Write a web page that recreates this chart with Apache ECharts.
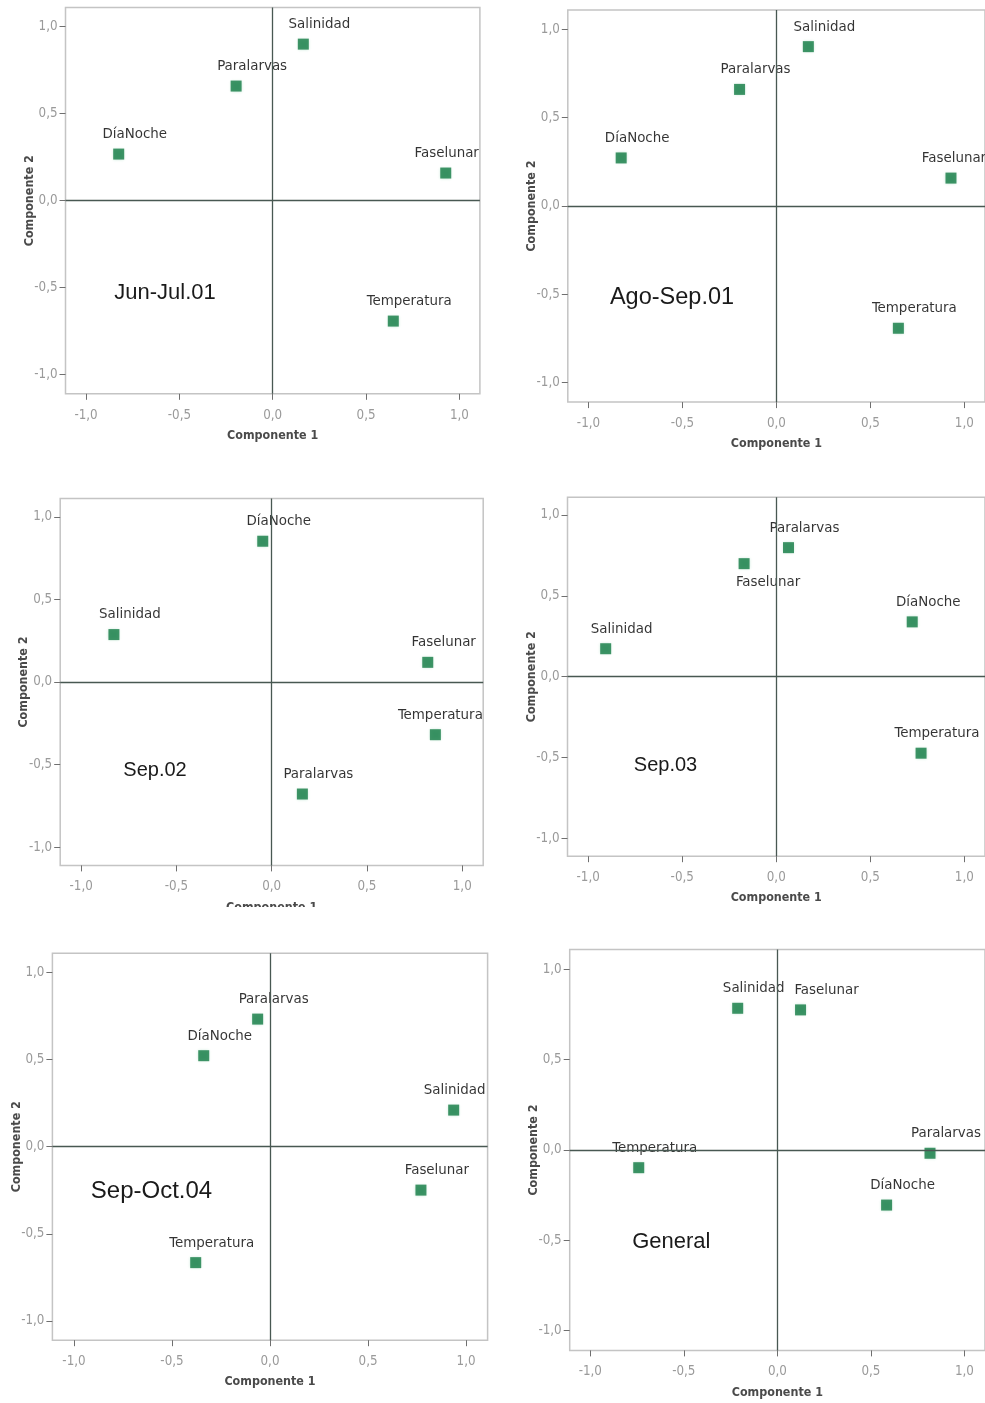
<!DOCTYPE html>
<html>
<head>
<meta charset="utf-8">
<script src="https://cdn.jsdelivr.net/npm/echarts@6/dist/echarts.min.js"></script>
<style>
html,body{margin:0;padding:0;background:#fff;}
#chart{width:985px;height:1403px;}
</style>
</head>
<body>
<div id="chart"></div>
<script>
// ---------------- data ----------------
const variables = ['Salinidad', 'Paralarvas', 'DíaNoche', 'Faselunar', 'Temperatura'];
const panelTitles = ['Jun-Jul.01', 'Ago-Sep.01', 'Sep.02', 'Sep.03', 'Sep-Oct.04', 'General'];
const axisTicks = [-1.0, -0.5, 0.0, 0.5, 1.0];
const xAxisName = 'Componente 1';
const yAxisName = 'Componente 2';

// Componente 1 / Componente 2 loadings, in the order of `variables`
const junJul01C1 = [0.164, -0.196, -0.825, 0.927, 0.646];
const junJul01C2 = [0.900, 0.659, 0.268, 0.159, -0.692];
const agoSep01C1 = [0.170, -0.196, -0.826, 0.929, 0.649];
const agoSep01C2 = [0.902, 0.660, 0.272, 0.158, -0.692];
const sep02C1 = [-0.828, 0.161, -0.047, 0.819, 0.859];
const sep02C2 = [0.287, -0.678, 0.852, 0.119, -0.319];
const sep03C1 = [-0.907, 0.065, 0.723, -0.171, 0.770];
const sep03C2 = [0.173, 0.798, 0.339, 0.699, -0.473];
const sepOct04C1 = [0.937, -0.063, -0.338, 0.770, -0.379];
const sepOct04C2 = [0.210, 0.732, 0.522, -0.249, -0.665];
const generalC1 = [-0.212, 0.816, 0.584, 0.124, -0.741];
const generalC2 = [0.785, -0.018, -0.305, 0.776, -0.098];

const comp1 = [junJul01C1, agoSep01C1, sep02C1, sep03C1, sepOct04C1, generalC1];
const comp2 = [junJul01C2, agoSep01C2, sep02C2, sep03C2, sepOct04C2, generalC2];

// ---------------- layout / style ----------------
const grids = [
  {left: 65.5, top: 7.6, width: 414.4, height: 386.2},
  {left: 567.8, top: 9.9, width: 423, height: 392.2},
  {left: 60.2, top: 498.6, width: 423, height: 366.8},
  {left: 567.5, top: 497.2, width: 423.6, height: 359},
  {left: 52.4, top: 953.2, width: 435.2, height: 387},
  {left: 569.7, top: 949.6, width: 419.2, height: 400.8}
];
const titlePos = [
  {x: 165, y: 293, size: 22},
  {x: 672, y: 298, size: 23.5},
  {x: 155, y: 770, size: 20},
  {x: 665.5, y: 765, size: 20},
  {x: 151.5, y: 1191, size: 24},
  {x: 671.3, y: 1242, size: 22}
];
const defaultNudge = [16, -20];
const labelNudge = {
  '0-Faselunar': [1, -20],
  '1-Faselunar': [3, -20],
  '2-Temperatura': [5, -20],
  '3-Faselunar': [24, 18],
  '4-Salinidad': [1, -20],
  '5-Faselunar': [26, -20]
};

function fontWorks(name) {
  const c = document.createElement('canvas').getContext('2d');
  const s = 'Temperatura mmmwwiiilll 0123';
  c.font = '40px monospace';
  const a = c.measureText(s).width;
  c.font = "40px '" + name + "', monospace";
  const b = c.measureText(s).width;
  return Math.abs(a - b) > 0.5;
}
const narrowCandidates = ['Liberation Sans Narrow', 'Arial Narrow', 'DejaVu Sans Condensed', 'Roboto Condensed', 'Liberation Sans'];
const narrowFont = narrowCandidates.find(fontWorks) || 'sans-serif';
const mctx = document.createElement('canvas').getContext('2d');
mctx.font = "18px '" + narrowFont + "'";
const fontScale = 85 / mctx.measureText('Temperatura').width;
const labelSize = 18 * fontScale;
const tickSize = 16 * fontScale;
const nameSize = 15 * fontScale;
const NF = "'" + narrowFont + "', sans-serif";

const gridOpts = [], xAxes = [], yAxes = [], series = [], graphics = [];
const fmt = v => (Math.round(v * 10) / 10).toFixed(1).replace('.', ',');

for (let i = 0; i < 6; i++) {
  gridOpts.push(Object.assign({show: true, borderColor: '#c4c4c4', borderWidth: 1.5, backgroundColor: 'transparent', containLabel: false}, grids[i]));
  const common = {
    gridIndex: i, type: 'value', min: -1.11, max: 1.11,
    nameLocation: 'middle',
    nameMoveOverlap: false,
    nameTextStyle: {fontFamily: NF, fontSize: nameSize, color: '#4a4a4a', fontWeight: 'bold'},
    axisLine: {show: false, onZero: false},
    axisTick: {show: true, inside: false, length: 6, customValues: axisTicks, lineStyle: {color: '#6f6f6f', width: 1}},
    axisLabel: {customValues: axisTicks, formatter: fmt, fontFamily: NF, fontSize: tickSize, color: '#9a9a9a'},
    splitLine: {show: false}
  };
  xAxes.push(Object.assign({}, common, {name: xAxisName, nameGap: 36, axisLabel: Object.assign({}, common.axisLabel, {margin: 15})}));
  yAxes.push(Object.assign({}, common, {name: yAxisName, nameGap: 30, nameRotate: 90, axisLabel: Object.assign({}, common.axisLabel, {margin: 8})}));

  const data = variables.map((v, k) => {
    const nudge = labelNudge[i + '-' + v] || defaultNudge;
    return {name: v, value: [comp1[i][k], comp2[i][k]], label: {offset: nudge}};
  });
  series.push({
    type: 'scatter', xAxisIndex: i, yAxisIndex: i,
    symbol: 'rect', symbolSize: 11,
    itemStyle: {color: '#137a44', shadowColor: 'rgba(40,170,100,0.35)', shadowBlur: 3},
    label: {show: true, position: 'inside', formatter: '{b}', fontFamily: NF, fontSize: labelSize, color: '#000000'},
    data: data,
    markLine: {
      silent: true, symbol: 'none', animation: false,
      label: {show: false},
      lineStyle: {color: '#485852', type: 'solid', width: 1.3},
      data: [{xAxis: 0}, {yAxis: 0}]
    },
    z: 3
  });
  graphics.push({
    type: 'text', x: titlePos[i].x, y: titlePos[i].y, z: 50,
    style: {text: panelTitles[i], fontFamily: "'Liberation Sans', Arial, sans-serif", fontSize: titlePos[i].size, fill: '#1a1a1a', textAlign: 'center', textVerticalAlign: 'middle'}
  });
}
// the third picture is cropped just under its axis name
graphics.push({type: 'rect', shape: {x: 0, y: 907, width: 492, height: 28}, style: {fill: '#ffffff'}, z: 100});

const chart = echarts.init(document.getElementById('chart'), null, {renderer: 'canvas'});
chart.setOption({
  animation: false,
  backgroundColor: '#ffffff',
  grid: gridOpts,
  xAxis: xAxes,
  yAxis: yAxes,
  series: series,
  graphic: graphics
});
</script>
</body>
</html>
